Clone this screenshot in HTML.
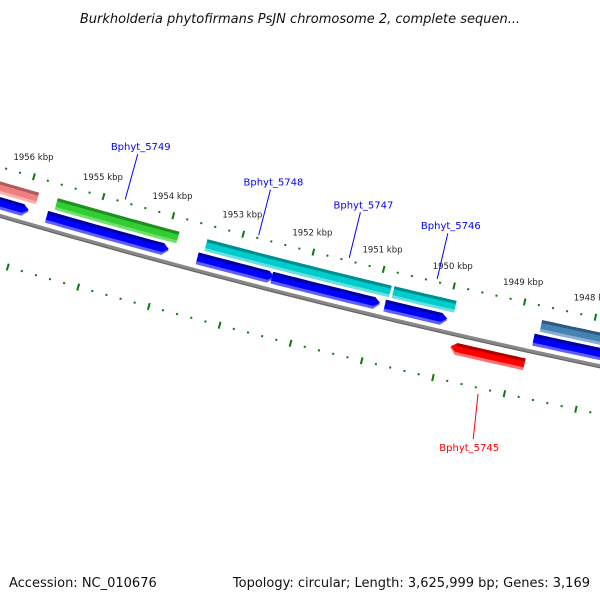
<!DOCTYPE html>
<html><head><meta charset="utf-8"><style>
body{margin:0;background:#fff}
svg{display:block;font-family:"DejaVu Sans","Liberation Sans",sans-serif}
</style></head><body>
<svg id="map" width="600" height="600" viewBox="0 0 600 600" xmlns="http://www.w3.org/2000/svg">
<text x="300" y="23" text-anchor="middle" font-size="13" font-style="italic" fill="#111">Burkholderia phytofirmans PsJN chromosome 2, complete sequen...</text>
<text x="9" y="587" font-size="13" fill="#111">Accession: NC_010676</text>
<text x="590" y="587" text-anchor="end" font-size="13" fill="#111">Topology: circular; Length: 3,625,999 bp; Genes: 3,169</text>
<g id="layer"></g>
</svg>
<script>
// data (kbp)
const tickMajors=[1957,1956,1955,1954,1953,1952,1951,1950,1949,1948];
const tickLabels=["1957 kbp","1956 kbp","1955 kbp","1954 kbp","1953 kbp","1952 kbp","1951 kbp","1950 kbp","1949 kbp","1948 kbp"];
const geneStarts=[1957.6,1955.6,1953.46,1950.80,1948.71];
const geneEnds=[1955.87,1953.86,1950.84,1949.92,1947.0];
const geneColors=["#f08080","#32cd32","#00cccc","#00cccc","#4682b4"];
const cdsStarts=[1957.6,1955.68,1953.53,1952.47,1950.87,1948.77];
const cdsEnds=[1955.94,1953.94,1952.44,1950.94,1949.99,1947.0];
const revStarts=[1949.86];
const revEnds=[1948.82];
const labelNames=["Bphyt_5749","Bphyt_5748","Bphyt_5747","Bphyt_5746"];
const labelKbp=[1954.7,1952.79,1951.5,1950.25];
const revLabelNames=["Bphyt_5745"];
const revLabelKbp=[1949.35];

const CX=2244,CY=-7463,R=8000;
function phi(k){return 1.816+(k-1952)*0.0091;}
function pt(k,off){const a=phi(k),r=R+off;return [CX+r*Math.cos(a),CY+r*Math.sin(a)];}
const NS="http://www.w3.org/2000/svg";
const layer=document.getElementById('layer');
function mk(tag,attrs){const e=document.createElementNS(NS,tag);for(const k in attrs)e.setAttribute(k,attrs[k]);layer.appendChild(e);return e;}
function arcPts(k1,k2,off){const n=12,p=[];for(let i=0;i<=n;i++)p.push(pt(k1+(k2-k1)*i/n,off));return p;}
function band(k1,k2,o1,o2,arrow){
  let top=arcPts(k1,k2,o1), bot=arcPts(k2,k1,o2);
  const pts=[];
  if(arrow==='right'){top=arcPts(k1,k2+0.08,o1);bot=arcPts(k2+0.08,k1,o2);pts.push(...top,pt(k2,(o1+o2)/2),...bot);}
  else if(arrow==='left'){top=arcPts(k1-0.08,k2,o1);bot=arcPts(k2,k1-0.08,o2);pts.push(...top,...bot,pt(k1,(o1+o2)/2));}
  else pts.push(...top,...bot);
  return pts.map(p=>p[0].toFixed(1)+','+p[1].toFixed(1)).join(' ');
}
function shaded(k1,k2,c,o,arrow,dark,light,name){
  let e=mk('polygon',{points:band(k1,k2,o-6,o+6,arrow),fill:light});
  
  
  e=mk('polygon',{points:band(k1,k2,o-6,o+3,arrow),fill:c});
  
  
  e=mk('polygon',{points:band(arrow==='left'?k1-0.08:k1,arrow==='right'?k2+0.08:k2,o-6,o-3,null),fill:dark});
  
  
}
let e=mk('polyline',{points:arcPts(1958,1947,0).map(p=>p.join(',')).join(' '),fill:'none',stroke:'#888',"stroke-width":4});


e=mk('polyline',{points:arcPts(1958,1947,1.5).map(p=>p.join(',')).join(' '),fill:'none',stroke:'#666',"stroke-width":1.2});


[-47,47].forEach((off)=>{
  for(let k=1957.8;k>=1947.2;k-=0.2){
    const kk=Math.round(k*10)/10;
    const major=tickMajors.indexOf(kk)>=0;
    const a=pt(kk,off-(major?3.5:1)),b=pt(kk,off+(major?3.5:1));
    const t=mk('line',{x1:a[0],y1:a[1],x2:b[0],y2:b[1],stroke:'#0a7a0a',"stroke-width":2});
    
    
  }
});
tickMajors.forEach((k,i)=>{
  const p=pt(k+0.07,-63);
  const t=mk('text',{x:p[0],y:p[1],"font-size":8.5,fill:'#222',"text-anchor":'middle'});
  t.textContent=tickLabels[i];
  
  
});
geneStarts.forEach((s,i)=>{
  const dark={"#f08080":"#b05a5a","#32cd32":"#1f8f1f","#00cccc":"#008f8f","#4682b4":"#2e5a80"}[geneColors[i]];
  const light={"#f08080":"#f8b0b0","#32cd32":"#70e070","#00cccc":"#66e0e0","#4682b4":"#8ab0d4"}[geneColors[i]];
  shaded(s,geneEnds[i],geneColors[i],-27,null,dark,light,'gene-bar');
});
cdsStarts.forEach((s,i)=>{shaded(s,cdsEnds[i],'#0000ff',-12,'right','#0000a0','#6060ff','cds-bar');});
revStarts.forEach((s,i)=>{shaded(s,revEnds[i],'#ff0000',14,'left','#b00000','#ff7070','reverse-gene-bar');});
labelNames.forEach((n,i)=>{
  const a=pt(labelKbp[i],-50),b=pt(labelKbp[i],-97);
  let l=mk('line',{x1:a[0],y1:a[1],x2:b[0],y2:b[1],stroke:'#0000ff',"stroke-width":1});
  
  
  let t=mk('text',{x:b[0]+3,y:b[1]-4,"font-size":10,fill:'#0000ff',"text-anchor":'middle'});
  t.textContent=n;
  
  
});
revLabelNames.forEach((n,i)=>{
  const a=pt(revLabelKbp[i],53),b=pt(revLabelKbp[i]-0.07,98);
  let l=mk('line',{x1:a[0],y1:a[1],x2:b[0],y2:b[1],stroke:'#ff0000',"stroke-width":1});
  
  
  let t=mk('text',{x:b[0]-4,y:b[1]+12,"font-size":10,fill:'#ff0000',"text-anchor":'middle'});
  t.textContent=n;
  
  
});
</script>
</body></html>
